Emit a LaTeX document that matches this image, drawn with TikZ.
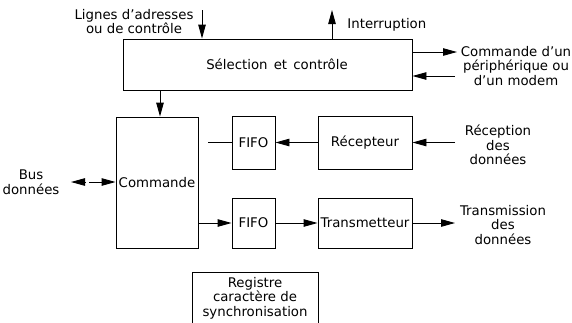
\documentclass[tikz,border=0pt]{standalone}
\usepackage{fontspec}
\setmainfont{DejaVu Sans}
\usetikzlibrary{arrows.meta}
\begin{document}
\begin{tikzpicture}[x=1pt,y=-1pt,
    line width=0.9pt,
    every node/.style={font=\fontsize{13.3}{14.5}\selectfont},
    block/.style={draw,inner sep=0pt,align=center},
    txt/.style={inner sep=0pt,align=center},
    arr/.style={-{Triangle[length=14pt,width=7.5pt]}}]
  \useasboundingbox (0,0) rectangle (572,322);
  \clip (0,0) rectangle (572,322);

  % Blocks
  \node[block,minimum width=289,minimum height=51] (sel) at (267.5,64.5) {\hspace{19pt}S\'election\hspace{2pt} et\hspace{2pt} contr\^ole};
  \node[block,minimum width=82,minimum height=131] (cmd) at (157,182.5) {Commande};
  \node[block,minimum width=43,minimum height=53] (fifor) at (253.5,142.5) {FIFO};
  \node[block,minimum width=94,minimum height=53] (rec) at (365,142.5) {R\'ecepteur};
  \node[block,minimum width=43,minimum height=50] (fifot) at (253.5,223) {FIFO};
  \node[block,minimum width=94,minimum height=50] (tx) at (365,223) {Transmetteur};
  \node[block,minimum width=126,minimum height=52] (reg) at (255,298) {Registre\\caract\`ere de\\synchronisation};

  % External signals
  \node[txt] (lignes) at (134,21.5) {Lignes d'adresses\\ou de contr\^ole};
  \node[txt,anchor=west] (intr) at (347,25) {Interruption};
  \node[txt] (perif) at (516,66) {Commande d'un\\p\'eriph\'erique ou\\d'un modem};
  \node[txt] (recin) at (498,145) {R\'eception\\des\\donn\'ees};
  \node[txt] (txout) at (503,225) {Transmission\\des\\donn\'ees};
  \node[txt] (bus) at (31,182) {Bus\\donn\'ees};

  \coordinate (ctlin) at (202,10);
  \coordinate (intout) at (332,10);
  \coordinate (perout) at (457,52);
  \coordinate (perin) at (455,76);
  \coordinate (recsrc) at (455,142.5);
  \coordinate (txdst) at (455,223);
  \coordinate (fiforend) at (208,142.5);
  \coordinate (busgap) at (89,182);
  \coordinate (bustip) at (71,182);

  % Control paths
  \draw[arr] (ctlin) -- (ctlin |- sel.north);
  \draw[arr] (intout |- sel.north) -- (intout);
  \draw[arr] (sel.east |- perout) -- (perout);
  \draw[arr] (perin) -- (sel.east |- perin);
  \draw[arr] (sel.south -| 160,0) -- (cmd.north -| 160,0);

  % Reception
  \draw[arr] (recsrc) -- (rec.east);
  \draw[arr] (rec.west) -- (fifor.east);
  \draw (fifor.west) -- (fiforend);

  % Transmission
  \draw[arr] (cmd.east |- fifot) -- (fifot.west);
  \draw[arr] (fifot.east) -- (tx.west);
  \draw[arr] (tx.east) -- (txdst);

  % Data bus
  \draw[arr] (busgap) -- (cmd.west |- busgap);
  \draw[arr] ([xshift=-3pt]busgap) -- (bustip);
\end{tikzpicture}
\end{document}
